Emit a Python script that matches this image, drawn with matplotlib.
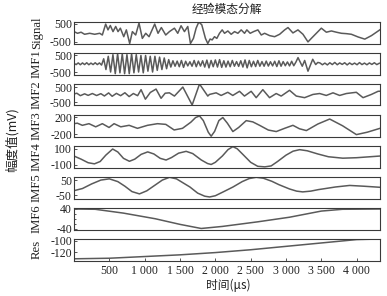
import numpy as np
import matplotlib
matplotlib.use("Agg")
import matplotlib.pyplot as plt
from matplotlib.ticker import FixedLocator

# ---------------- data (time in microseconds, amplitude in mV) ----------------
signal_pts = [(0,63),(50,-30),(100,30),(150,-85),(222,-30),(293,-85),(364,-30),(401,-125),
              (448,485),(481,160),(514,405),(552,63),(590,350),(623,63),(656,255),(704,-220),
              (741,160),(788,-600),(826,63),(873,-125),(920,540),(967,-315),(1015,-30),
              (1062,-220),(1142,485),(1189,-30),(1236,290),(1298,-125),(1350,63),(1421,255),
              (1468,-30),(1515,390),(1563,63),(1610,350),(1648,-600),(1690,-315),(1728,255),
              (1766,600),(1808,445),(1860,-315),(1893,-600),(1926,-350),(1955,-400),(1988,-220),
              (2021,-315),(2059,-30),(2097,160),(2130,-30),(2177,100),(2224,-85),(2272,63),
              (2319,-30),(2366,160),(2413,-30),(2446,160),(2493,-30),(2541,63),(2602,160),
              (2650,-125),(2697,-30),(2768,-160),(2839,-220),(2910,-85),(2981,160),(3028,290),
              (3098,-10),(3169,160),(3240,-85),(3311,-510),(3358,-315),(3429,-30),(3500,255),
              (3571,30),(3642,100),(3713,30),(3784,-30),(3854,-50),(3925,-85),(4020,-235),
              (4115,-355),(4209,-160),(4327,160)]

imf1_t_a = [0,30,60,90,120,150,180,210,240,270,300,330,360,390]
imf1_v_a = [20,-50,50,-60,50,-50,60,-60,40,-50,60,-50,50,-80]
imf1_t_b = [420,452,485,518,551,584,617,650,683,716,749,782,815,848,881,914,947,980,1013,1046,
            1079,1112,1145,1178,1211,1244,1277,1310]
imf1_v_b = [300,-350,450,-500,550,-600,600,-550,600,-600,550,-600,600,-550,550,-500,500,-550,500,-450,
            450,-500,450,-400,400,-350,350,-300]
imf1_t_c = [1340,1370,1400,1430,1460,1490,1520,1550,1580,1610,1640,1670,1700,1730,1760,1790,1820,
            1850,1880,1910,1940,1970,2000,2030,2060,2090,2120,2150,2180,2210,2240,2270,2300,2330,
            2360,2390,2420,2450,2480,2510,2540,2570,2600,2630,2660,2690,2720,2750,2780,2810,2840,
            2870,2900,2930,2960,2990,3020,3050,3080,3110,3140]
imf1_v_c = [250,-200,180,-150,160,-180,200,-220,150,-130,
            120,-150,200,-180,160,-140,180,-200,220,-250,
            200,-180,230,-200,250,-220,180,-200,160,-180,
            200,-150,130,-160,180,-200,230,-250,200,-180,
            150,-170,200,-150,130,-150,160,-140,120,-130,
            150,-170,180,-150,130,-120,110,-130,150,-120,
            100]
imf1_t_d = [3170,3230,3264,3311,3378,3420,3450]
imf1_v_d = [370,-150,200,-450,270,-50,80]
imf1_t_e = [3480,3515,3550,3585,3620,3655,3690,3725,3760,3795,3830,3865,3900,3935,3970,4005,
            4040,4075,4110,4145,4180,4215,4250,4285,4320]
imf1_v_e = [50,-60,40,-70,60,-50,80,-60,50,-40,60,-70,50,-50,40,-60,70,-50,40,-60,50,-40,60,-50,30]

imf2_pts = [(0,50),(40,100),(90,-60),(150,60),(200,-40),(260,80),(320,-50),(380,70),(430,-80),
            (490,120),(540,-100),(600,90),(660,-60),(720,130),(780,-120),(840,80),(900,-60),
            (949,330),(1010,-290),(1080,150),(1161,370),(1232,-230),(1290,100),(1350,125),
            (1421,-85),(1540,500),(1672,-665),(1776,700),(1893,-85),(1917,20),(2011,125),
            (2082,-45),(2176,160),(2247,-45),(2342,225),(2412,-85),(2507,225),(2578,-190),
            (2672,330),(2767,-190),(2861,80),(2932,-85),(3050,290),(3145,-85),(3263,-190),
            (3381,20),(3476,80),(3570,-45),(3665,125),(3759,-45),(3854,80),(3995,160),
            (4090,-190),(4208,20),(4303,225),(4330,230)]

imf3_pts = [(0,48),(47,60),(118,10),(212,48),(307,-25),(401,48),(496,-40),(567,48),(662,-25),
            (780,10),(898,-60),(1040,10),(1181,48),(1299,32),(1417,-98),(1535,-60),(1653,82),
            (1720,190),(1776,228),(1830,120),(1900,-150),(1941,-243),(1990,-130),(2050,120),
            (2106,191),(2170,60),(2248,-135),(2330,-40),(2437,119),(2530,90),(2626,10),
            (2750,-100),(2862,-135),(2980,-60),(3098,10),(3190,-70),(3288,-112),(3450,40),
            (3618,156),(3800,0),(3996,-206),(4150,-150),(4330,-60)]

imf4_pts = [(0,9),(100,-30),(200,-75),(289,-89),(370,-60),(450,20),(547,97),(620,60),(700,-20),
            (784,-57),(860,-30),(950,30),(1043,61),(1130,35),(1220,-20),(1303,-41),(1380,-10),
            (1480,45),(1587,68),(1680,40),(1800,-40),(1890,-85),(1941,-97),(2000,-70),(2100,10),
            (2180,90),(2248,127),(2310,100),(2400,20),(2500,-70),(2600,-120),(2700,-127),
            (2790,-115),(2880,-60),(3000,20),(3100,70),(3193,89),(3300,75),(3450,35),(3600,0),
            (3804,-18),(4000,-12),(4330,9)]

imf5_pts = [(0,-19),(120,-5),(250,25),(380,50),(500,58),(620,40),(720,10),(820,-25),(926,-40),
            (1030,-20),(1140,15),(1250,50),(1352,68),(1450,58),(1550,30),(1640,5),(1750,-35),
            (1850,-55),(1919,-60),(2000,-52),(2120,-25),(2250,5),(2380,40),(2480,60),(2579,68),
            (2680,62),(2800,42),(2900,20),(3050,-8),(3150,-22),(3236,-27),(3350,-22),(3460,-12),
            (3560,-5),(3700,5),(3900,15),(4100,10),(4330,3)]

imf6_pts = [(0,38),(300,37),(700,22),(1150,0),(1500,-22),(1800,-38),(2100,-30),(2600,-12),
            (3050,6),(3500,30),(3800,37),(4330,38)]

res_pts = [(0,-132),(500,-131),(1000,-128),(1500,-125),(2000,-121),(2500,-116),(3000,-110),
           (3500,-104),(4000,-98),(4330,-97)]

panel_names = ["Signal", "IMF1", "IMF2", "IMF3", "IMF4", "IMF5", "IMF6", "Res"]
panel_yticks = [[-500, 500], [-500, 500], [-500, 500], [-200, 200], [-100, 100],
                [-50, 50], [-40, 40], [-120, -100]]
panel_ylims = [(-600, 600), (-650, 650), (-700, 700), (-250, 250), (-135, 135),
               (-70, 70), (-42, 42), (-135, -97)]
xtick_vals = [500, 1000, 1500, 2000, 2500, 3000, 3500, 4000]
xtick_labels = ["500", "1 000", "1 500", "2 000", "2 500", "3 000", "3 500", "4 000"]

title_text = "经验模态分解"
xlabel_text = "时间(μs)"
ylabel_text = "幅度值(mV)"

# ---------------- assemble series ----------------
def unzip(pts):
    a = np.array(pts, dtype=float)
    return a[:, 0], a[:, 1]

imf1_t = np.concatenate([imf1_t_a, imf1_t_b, imf1_t_c, imf1_t_d, imf1_t_e])
imf1_v = np.concatenate([imf1_v_a, imf1_v_b, imf1_v_c, imf1_v_d, imf1_v_e])

series = [unzip(signal_pts), (imf1_t, imf1_v), unzip(imf2_pts), unzip(imf3_pts),
          unzip(imf4_pts), unzip(imf5_pts), unzip(imf6_pts), unzip(res_pts)]

# ---------------- figure ----------------
W, H = 387, 296
fig = plt.figure(figsize=(W / 100, H / 100), dpi=100)
fig.patch.set_facecolor("white")

serif = ["Liberation Serif", "DejaVu Serif"]
cjk = ["Noto Sans CJK SC", "DejaVu Sans"]
line_col = "#5a5a5a"
frame_col = "#3a3a3a"
text_col = "#222222"

left_px, right_px = 74, 380
top0_px, step_px, h_px = 22, 31.0, 21.5

for i, (name, (t, v)) in enumerate(zip(panel_names, series)):
    top = top0_px + i * step_px
    ax = fig.add_axes([left_px / W, 1 - (top + h_px) / H, (right_px - left_px) / W, h_px / H])
    ax.plot(t, v, color=line_col, lw=1.1, solid_joinstyle="round")
    ax.set_xlim(0, 4330)
    ax.set_ylim(*panel_ylims[i])
    ax.set_yticks(panel_yticks[i])
    ax.set_yticklabels([str(x) for x in panel_yticks[i]], fontfamily=serif, fontsize=8.5)
    if name == "IMF6":
        ax.yaxis.set_minor_locator(FixedLocator([-20, 0, 20]))
    ax.tick_params(axis="y", which="both", direction="in", length=2.5, width=0.6,
                   pad=1.5, colors=frame_col, labelcolor=text_col)
    ax.tick_params(axis="y", which="minor", length=1.5)
    for sp in ax.spines.values():
        sp.set_color(frame_col)
        sp.set_linewidth(0.8)
    if i < len(panel_names) - 1:
        ax.set_xticks([])
    else:
        ax.set_xticks(xtick_vals)
        ax.set_xticklabels(xtick_labels, fontfamily=serif, fontsize=8.5)
        ax.tick_params(axis="x", direction="in", length=2.5, width=0.6, pad=3,
                       colors=frame_col, labelcolor=text_col)
    fig.text(37 / W, 1 - (top + h_px / 2) / H, name, rotation=90, ha="center", va="center",
             fontfamily=serif, fontsize=9.2, color=text_col)

fig.text(227 / W, 1 - 9 / H, title_text, ha="center", va="center",
         fontfamily=cjk, fontsize=8.5, color=text_col)
fig.text(228 / W, 1 - 285 / H, xlabel_text, ha="center", va="center",
         fontfamily=cjk, fontsize=8.5, color=text_col)
fig.text(12 / W, 1 - 140 / H, ylabel_text, rotation=90, ha="center", va="center",
         fontfamily=cjk, fontsize=9, color=text_col)

fig.savefig("out.png", dpi=100, facecolor="white")
